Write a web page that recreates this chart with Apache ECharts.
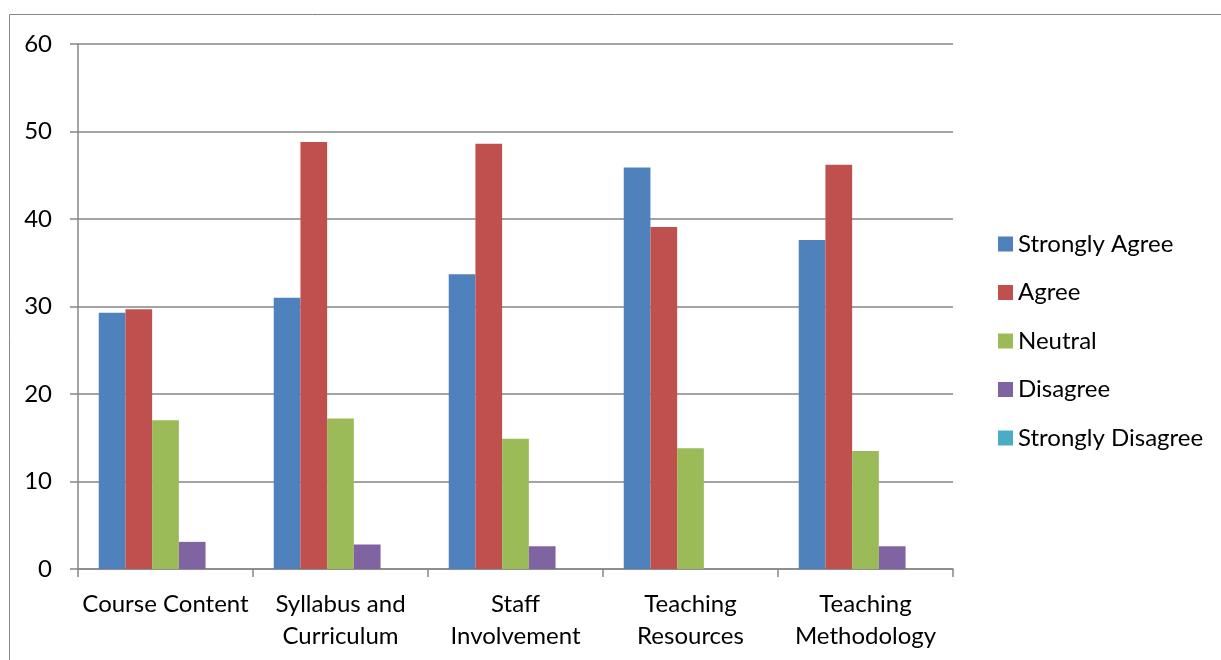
<!DOCTYPE html>
<html>
<head>
<meta charset="utf-8">
<script src="https://cdn.jsdelivr.net/npm/echarts@6/dist/echarts.min.js"></script>
<style>html,body{margin:0;padding:0;background:#fff;}#c{width:1221px;height:660px;}</style>
</head>
<body>
<div id="c"></div>
<script>
const categories = ['Course Content', 'Syllabus and\nCurriculum', 'Staff\nInvolvement', 'Teaching\nResources', 'Teaching\nMethodology'];
const seriesNames = ['Strongly Agree', 'Agree', 'Neutral', 'Disagree', 'Strongly Disagree'];
const stronglyAgree = [29.3, 31.0, 33.7, 45.9, 37.6];
const agree = [29.7, 48.8, 48.6, 39.1, 46.2];
const neutral = [17.0, 17.2, 14.9, 13.8, 13.5];
const disagree = [3.1, 2.8, 2.6, 0, 2.6];
const stronglyDisagree = [0, 0, 0, 0, 0];
const colors = ['#4F81BD', '#C0504D', '#9BBB59', '#8064A2', '#4BACC6'];
const yTicks = [0, 10, 20, 30, 40, 50, 60];

const font = 'Lato, "Open Sans", sans-serif';
const allData = [stronglyAgree, agree, neutral, disagree, stronglyDisagree];
const chart = echarts.init(document.getElementById('c'));
chart.setOption({
  animation: false,
  color: colors,
  graphic: [{
    type: 'rect', shape: {x: 9.5, y: 14.5, width: 1400, height: 800},
    style: {fill: 'none', stroke: '#868686', lineWidth: 1}, z: -1
  }],
  grid: {left: 78, top: 44, right: 268, bottom: 91, containLabel: false},
  legend: {
    orient: 'vertical', left: 998, top: 232, padding: 0,
    itemWidth: 15, itemHeight: 15, itemGap: 24.5, itemTextGap: 5,
    icon: 'rect',
    textStyle: {fontFamily: font, fontSize: 24, color: '#000', lineHeight: 24, padding: [0, 0, 0, 0]},
    data: seriesNames
  },
  xAxis: {
    type: 'category', data: categories,
    axisLine: {lineStyle: {color: '#868686', width: 1.5}},
    axisTick: {show: true, length: 8, lineStyle: {color: '#868686', width: 1.5}},
    axisLabel: {fontFamily: font, fontSize: 24, color: '#000', margin: 19, lineHeight: 32, interval: 0}
  },
  yAxis: {
    type: 'value', min: 0, max: 60, interval: 10,
    axisLine: {show: true, lineStyle: {color: '#868686', width: 1.5}},
    axisTick: {show: true, length: 8, lineStyle: {color: '#868686', width: 1.5}},
    splitLine: {lineStyle: {color: '#868686', width: 1.5}},
    axisLabel: {fontFamily: font, fontSize: 24, color: '#000', margin: 26,
      formatter: v => yTicks.includes(v) ? String(v) : ''}
  },
  series: seriesNames.map((n, i) => ({
    name: n, type: 'bar', data: allData[i],
    barGap: '0%', barCategoryGap: '23.7%',
    itemStyle: {color: colors[i], borderWidth: 0}
  }))
});
</script>
</body>
</html>
